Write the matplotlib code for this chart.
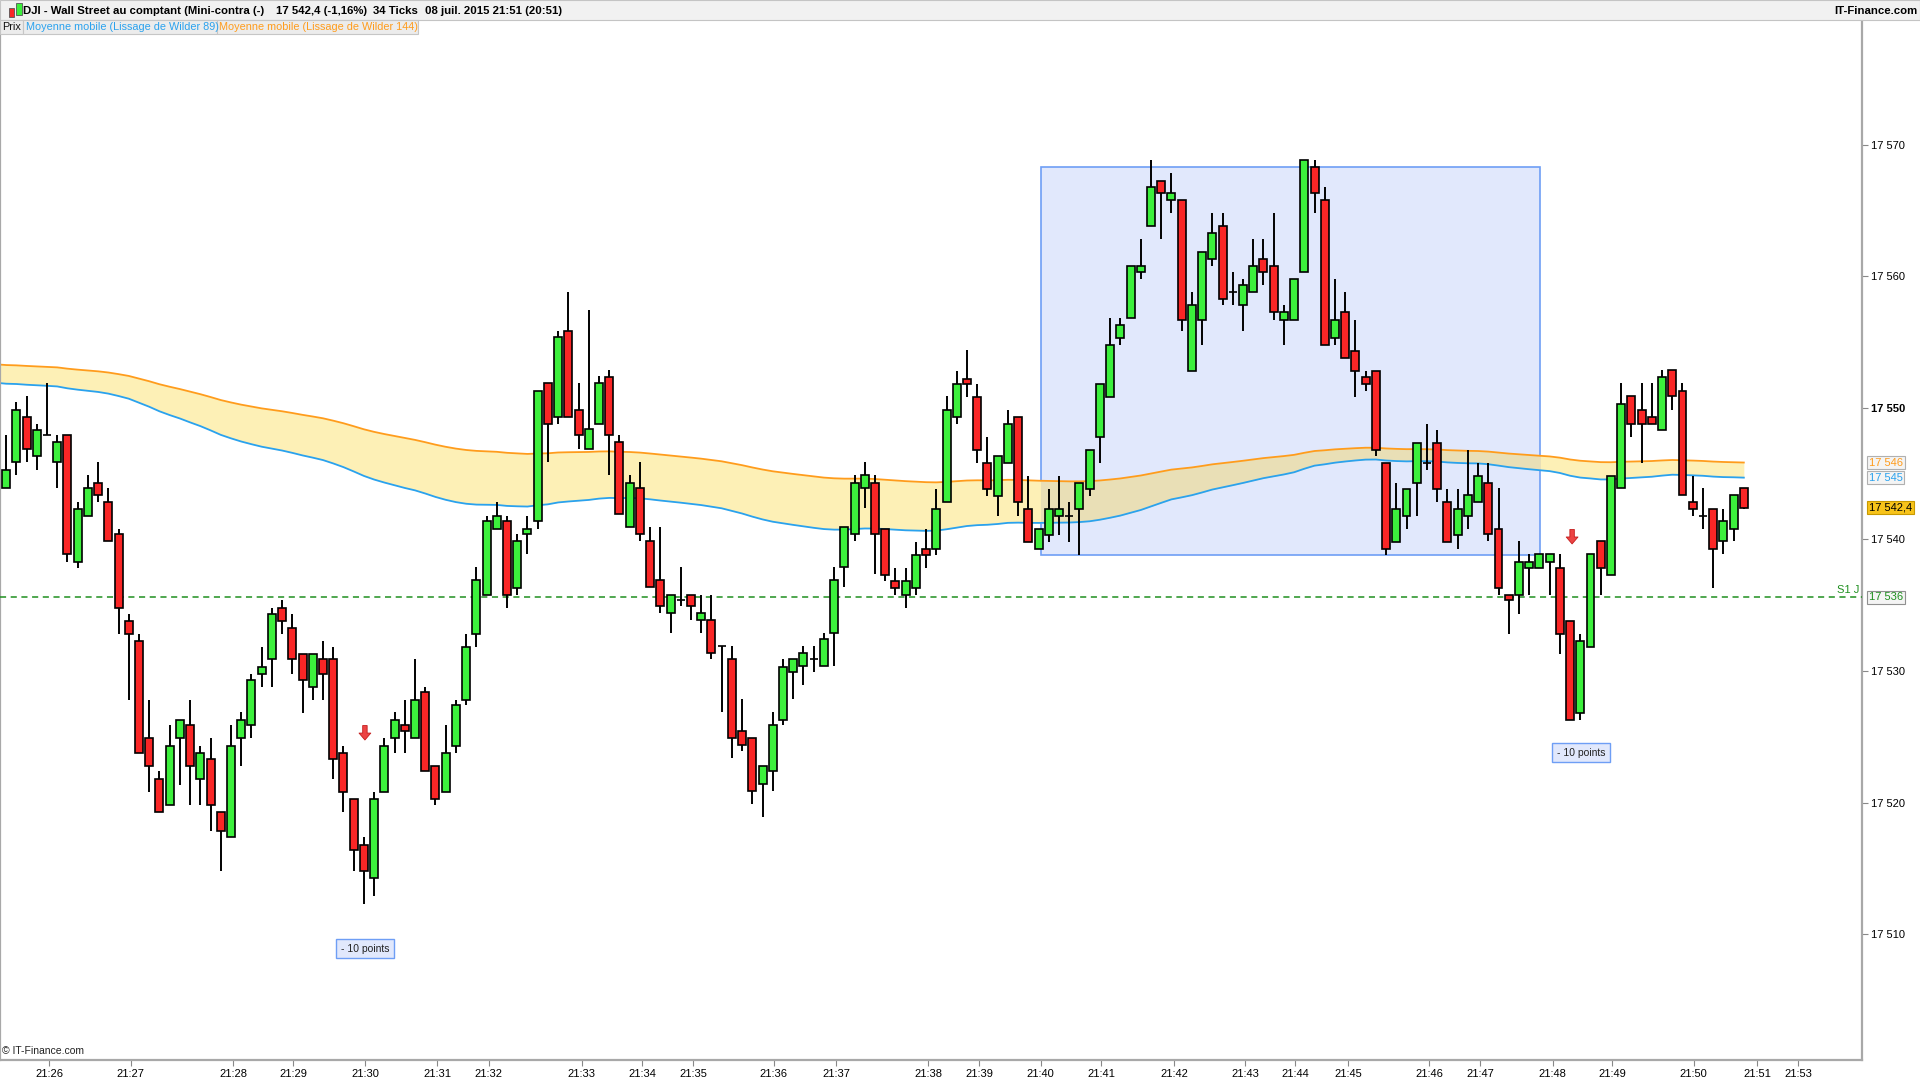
import matplotlib.pyplot as plt
import numpy as np
from matplotlib.patches import Rectangle

plt.rcParams['font.family'] = ['Liberation Sans', 'DejaVu Sans']

# OHLC of the 34-tick candles
opens = [17543.9, 17545.9, 17549.3, 17546.3, 17547.9, 17545.9, 17547.9, 17538.3, 17541.8, 17544.3,
         17542.8, 17540.4, 17533.8, 17532.3, 17524.9, 17521.8, 17519.8, 17524.9, 17525.9, 17521.8,
         17523.3, 17519.3, 17517.4, 17524.9, 17525.9, 17529.8, 17530.9, 17534.8, 17533.3, 17531.3,
         17528.8, 17530.9, 17530.9, 17523.8, 17520.3, 17516.8, 17514.3, 17520.8, 17524.9, 17525.9,
         17524.9, 17528.4, 17522.8, 17520.8, 17524.3, 17527.8, 17532.8, 17535.8, 17540.8, 17541.4,
         17536.3, 17540.4, 17541.4, 17551.9, 17549.3, 17555.8, 17549.8, 17546.9, 17548.8, 17552.3,
         17547.4, 17540.9, 17543.9, 17539.9, 17536.9, 17534.4, 17535.4, 17535.8, 17533.9, 17533.9,
         17531.9, 17530.9, 17525.4, 17524.9, 17521.4, 17522.4, 17526.3, 17529.9, 17530.4, 17530.9,
         17530.4, 17532.9, 17537.9, 17540.4, 17543.9, 17544.3, 17540.8, 17536.8, 17535.8, 17536.3,
         17539.3, 17539.3, 17542.8, 17549.3, 17552.2, 17550.8, 17545.8, 17543.3, 17545.8, 17549.3,
         17542.3, 17539.3, 17540.3, 17541.8, 17541.8, 17542.3, 17543.8, 17547.8, 17550.8, 17555.3,
         17556.8, 17560.3, 17563.8, 17567.2, 17565.8, 17565.8, 17552.8, 17556.7, 17561.3, 17563.8,
         17558.8, 17557.8, 17558.8, 17561.3, 17560.8, 17556.7, 17556.7, 17560.3, 17568.3, 17565.8,
         17555.3, 17557.3, 17554.3, 17552.3, 17552.8, 17545.8, 17539.8, 17541.8, 17544.3, 17545.8,
         17547.3, 17542.8, 17540.3, 17541.8, 17542.8, 17544.3, 17540.8, 17535.8, 17535.8, 17537.8,
         17537.8, 17538.3, 17537.8, 17533.8, 17526.8, 17531.8, 17539.9, 17537.3, 17543.9, 17550.9,
         17549.8, 17549.3, 17548.3, 17552.9, 17551.3, 17542.8, 17541.8, 17542.3, 17539.9, 17540.8,
         17543.9]
highs = [17547.9, 17550.4, 17550.9, 17548.8, 17551.9, 17547.9, 17547.9, 17542.8, 17544.9, 17545.9,
         17543.9, 17540.8, 17534.3, 17532.8, 17527.8, 17522.4, 17525.9, 17526.3, 17527.8, 17524.3,
         17524.9, 17519.3, 17525.9, 17526.9, 17529.8, 17531.8, 17534.8, 17535.4, 17534.3, 17531.3,
         17531.3, 17532.3, 17531.8, 17524.3, 17520.3, 17517.4, 17520.8, 17524.9, 17526.9, 17527.8,
         17530.9, 17528.8, 17522.8, 17525.9, 17527.8, 17532.8, 17537.9, 17541.8, 17542.8, 17541.8,
         17540.4, 17541.8, 17551.3, 17551.9, 17555.8, 17558.8, 17551.9, 17557.4, 17552.4, 17552.9,
         17547.9, 17544.9, 17545.9, 17540.9, 17540.9, 17535.8, 17537.9, 17535.8, 17535.8, 17535.8,
         17531.9, 17531.9, 17527.9, 17524.9, 17522.8, 17526.9, 17530.9, 17530.9, 17531.9, 17531.9,
         17532.9, 17537.9, 17540.9, 17544.9, 17545.9, 17544.9, 17540.8, 17537.8, 17537.8, 17539.8,
         17540.8, 17543.8, 17550.9, 17552.8, 17554.4, 17551.8, 17547.8, 17546.3, 17549.8, 17549.3,
         17544.8, 17540.8, 17543.8, 17544.8, 17542.8, 17544.3, 17546.8, 17551.8, 17556.8, 17556.8,
         17560.8, 17562.8, 17568.8, 17567.2, 17567.8, 17565.8, 17558.8, 17561.8, 17564.8, 17564.8,
         17560.3, 17559.8, 17562.8, 17562.8, 17564.8, 17557.8, 17559.8, 17568.8, 17568.8, 17566.8,
         17559.8, 17558.8, 17556.7, 17552.8, 17552.8, 17545.8, 17544.3, 17543.8, 17547.3, 17548.8,
         17548.3, 17543.8, 17543.8, 17546.8, 17545.8, 17545.8, 17543.9, 17535.8, 17539.9, 17538.9,
         17538.9, 17538.9, 17538.9, 17533.8, 17532.8, 17538.9, 17539.9, 17544.8, 17551.9, 17550.9,
         17551.9, 17551.9, 17552.9, 17552.9, 17551.9, 17544.8, 17543.9, 17542.3, 17542.3, 17543.4,
         17543.9]
lows = [17543.9, 17544.9, 17545.9, 17545.3, 17547.9, 17543.9, 17538.3, 17537.8, 17541.8, 17542.8,
        17539.9, 17532.8, 17527.8, 17523.8, 17520.8, 17519.3, 17519.8, 17521.3, 17519.8, 17519.8,
        17517.8, 17514.8, 17517.4, 17522.8, 17524.9, 17528.8, 17528.8, 17532.8, 17529.8, 17526.8,
        17527.8, 17527.8, 17521.8, 17519.3, 17514.8, 17512.3, 17512.9, 17520.8, 17523.8, 17523.8,
        17524.9, 17522.4, 17519.8, 17520.8, 17523.8, 17527.4, 17531.8, 17535.8, 17540.8, 17534.8,
        17535.8, 17538.9, 17540.8, 17545.9, 17548.8, 17549.3, 17546.9, 17546.9, 17548.8, 17544.9,
        17541.9, 17540.9, 17539.9, 17536.4, 17534.4, 17532.9, 17534.9, 17533.9, 17532.9, 17530.9,
        17526.9, 17523.4, 17523.9, 17519.9, 17518.9, 17520.9, 17525.9, 17527.9, 17528.9, 17529.9,
        17530.4, 17530.4, 17536.4, 17539.9, 17542.4, 17537.4, 17536.8, 17535.8, 17534.8, 17535.8,
        17537.8, 17538.8, 17542.8, 17548.8, 17550.8, 17545.8, 17543.3, 17541.8, 17545.8, 17541.8,
        17539.8, 17539.3, 17539.8, 17540.3, 17539.8, 17538.8, 17543.3, 17545.8, 17550.8, 17554.8,
        17556.8, 17559.8, 17563.8, 17562.8, 17564.8, 17555.8, 17552.8, 17554.8, 17560.8, 17557.8,
        17557.8, 17555.8, 17558.8, 17559.3, 17556.7, 17554.8, 17556.7, 17560.3, 17564.8, 17554.8,
        17554.8, 17553.8, 17550.8, 17551.3, 17546.3, 17538.8, 17539.8, 17540.8, 17541.8, 17545.3,
        17542.8, 17539.8, 17539.3, 17540.8, 17542.8, 17539.9, 17535.8, 17532.8, 17534.3, 17535.8,
        17537.8, 17535.8, 17531.3, 17526.3, 17526.3, 17531.8, 17535.8, 17537.3, 17543.9, 17547.8,
        17545.8, 17548.8, 17548.3, 17549.8, 17543.4, 17541.8, 17540.8, 17536.3, 17538.9, 17539.9,
        17542.3]
closes = [17545.3, 17549.8, 17546.9, 17548.3, 17547.9, 17547.4, 17538.9, 17542.3, 17543.9, 17543.4,
          17539.9, 17534.8, 17532.8, 17523.8, 17522.8, 17519.3, 17524.3, 17526.3, 17522.8, 17523.8,
          17519.8, 17517.8, 17524.3, 17526.3, 17529.3, 17530.3, 17534.3, 17533.8, 17530.9, 17529.3,
          17531.3, 17529.8, 17523.3, 17520.8, 17516.4, 17514.8, 17520.3, 17524.3, 17526.3, 17525.4,
          17527.8, 17522.4, 17520.3, 17523.8, 17527.4, 17531.8, 17536.9, 17541.4, 17541.8, 17535.8,
          17539.9, 17540.8, 17551.3, 17548.8, 17555.4, 17549.3, 17547.9, 17548.4, 17551.9, 17547.9,
          17541.9, 17544.3, 17540.4, 17536.4, 17534.9, 17535.8, 17535.4, 17534.9, 17534.4, 17531.4,
          17531.9, 17524.9, 17524.4, 17520.9, 17522.8, 17525.9, 17530.3, 17530.9, 17531.4, 17530.9,
          17532.4, 17536.9, 17540.9, 17544.3, 17544.9, 17540.4, 17537.3, 17536.3, 17536.8, 17538.8,
          17538.8, 17542.3, 17549.8, 17551.8, 17551.8, 17546.8, 17543.8, 17546.3, 17548.8, 17542.8,
          17539.8, 17540.8, 17542.3, 17542.3, 17541.8, 17544.3, 17546.8, 17551.8, 17554.8, 17556.3,
          17560.8, 17560.8, 17566.8, 17566.3, 17566.3, 17556.7, 17557.8, 17561.8, 17563.3, 17558.3,
          17558.8, 17559.3, 17560.8, 17560.3, 17557.3, 17557.3, 17559.8, 17568.8, 17566.3, 17554.8,
          17556.7, 17553.8, 17552.8, 17551.8, 17546.8, 17539.3, 17542.3, 17543.8, 17547.3, 17545.8,
          17543.8, 17539.8, 17542.3, 17543.4, 17544.8, 17540.4, 17536.3, 17535.4, 17538.3, 17538.3,
          17538.9, 17538.9, 17532.8, 17526.3, 17532.3, 17538.9, 17537.8, 17544.8, 17550.3, 17548.8,
          17548.8, 17548.8, 17552.3, 17550.9, 17543.4, 17542.3, 17541.8, 17539.3, 17541.4, 17543.4,
          17542.4]

time_labels = ['21:26', '21:27', '21:28', '21:29', '21:30', '21:31', '21:32', '21:33', '21:34',
               '21:35', '21:36', '21:37', '21:38', '21:39', '21:40', '21:41', '21:42', '21:43',
               '21:44', '21:45', '21:46', '21:47', '21:48', '21:49', '21:50', '21:51', '21:53']
time_idx = [4.2, 12.2, 22.2, 28.1, 35.1, 42.2, 47.2, 56.3, 62.2, 67.2, 75.1, 81.2, 90.2, 95.2,
            101.2, 107.1, 114.3, 121.2, 126.1, 131.3, 139.2, 144.2, 151.3, 157.1, 165.1, 171.3, 175.3]

# Wilder smoothing, starting values read at the left edge of the chart
ma89_seed = 17551.9
ma144_seed = 17553.3

support_s1 = 17535.6
zone_start, zone_end = 101.2, 150.1
zone_low, zone_high = 17538.8, 17568.3
signal_idx = [35.1, 153.2]
signal_price = [17525.3, 17540.2]
note_idx = [35.1, 154.1]
note_price = [17508.9, 17523.8]


def wilder(values, n, seed):
    out = [seed]
    m = seed
    for v in values:
        m += (v - m) / n
        out.append(m)
    return np.array(out)


def fmt(v, dec=0):
    s = f"{v:,.{dec}f}"
    return s.replace(',', ' ').replace('.', ',')


o = np.array(opens)
h = np.array(highs)
l = np.array(lows)
c = np.array(closes)
x = np.arange(len(c))
xm = np.arange(-1, len(c))
ma89 = wilder(c, 89, ma89_seed)
ma144 = wilder(c, 144, ma144_seed)

fig = plt.figure(figsize=(19.2, 10.8), dpi=100)
ax = fig.add_axes([0.0, 0.0181, 0.970, 0.9626])

# zone box and MA band
zone = Rectangle((zone_start, zone_low), zone_end - zone_start, zone_high - zone_low,
                 facecolor='#e1e8fc', edgecolor='#6e9ef5', lw=1.2, zorder=1)
ax.add_patch(zone)
ax.fill_between(xm, ma89, ma144, color='#fdf0b6', lw=0, zorder=2)
band_in = ax.fill_between(xm, ma89, ma144, color='#e9dfb6', lw=0, zorder=2.1)
band_in.set_clip_path(zone)
ax.plot(xm, ma144, color='#ff9c1c', lw=1.3, zorder=2.5)
ax.plot(xm, ma89, color='#2aa2ee', lw=1.3, zorder=2.5)

ax.axhline(support_s1, color='#1f8f1f', lw=1.1, ls=(0, (4, 3)), zorder=2.6)

# candles
up = c >= o
colors = np.where(up, '#3cf03c', '#fa2626')
ax.vlines(x, l, h, color='black', lw=1.4, zorder=3)
ax.bar(x, np.abs(c - o), bottom=np.minimum(o, c), width=0.78, color=colors,
       edgecolor='black', linewidth=1.2, zorder=4)

# signals
for xi, yi in zip(signal_idx, signal_price):
    ax.annotate('', xy=(xi, yi - 0.55), xytext=(xi, yi + 0.55),
                arrowprops=dict(arrowstyle='simple,head_length=0.5,head_width=0.85,tail_width=0.32',
                                facecolor='#ec4444', edgecolor='#c41c1c', lw=0.6,
                                shrinkA=0, shrinkB=0), zorder=5)
for xi, yi in zip(note_idx, note_price):
    ax.text(xi, yi, '- 10 points', ha='center', va='center', fontsize=7.5, color='#222222',
            bbox=dict(boxstyle='square,pad=0.45', facecolor='#e1e8fc', edgecolor='#6e9ef5', lw=1),
            zorder=6)

ax.set_xlim(-0.6, 181.6)
ax.set_ylim(17500.4, 17579.4)

for s in ['left', 'right', 'bottom']:
    ax.spines[s].set_color('#a8a8a8')
    ax.spines[s].set_linewidth(1.6)
ax.spines['top'].set_visible(False)

ax.yaxis.tick_right()
yt = list(range(17510, 17571, 10))
ax.set_yticks(yt)
ax.set_yticklabels([fmt(v) for v in yt], fontsize=8)
for lab, v in zip(ax.get_yticklabels(), yt):
    if v == 17550:
        lab.set_fontweight('bold')
ax.tick_params(axis='y', length=4, width=0.8, color='#888888', pad=2)
ax.set_xticks(time_idx)
ax.set_xticklabels(time_labels, fontsize=8)
ax.tick_params(axis='x', length=4, width=0.8, color='#888888', pad=2)

# right-hand value tags
tr = ax.get_yaxis_transform()
tags = [(ma144[-1], fmt(ma144[-1]), '#ff9c1c', '#f4f4f4', '#b0b0b0'),
        (ma89[-1], fmt(ma89[-1]), '#2aa2ee', '#f4f4f4', '#b0b0b0'),
        (c[-1], fmt(c[-1], 1), 'black', '#f7c31a', '#c89a00'),
        (support_s1, fmt(support_s1), '#1f8f1f', '#f4f4f4', '#909090')]
for yv, txt, col, bg, ec in tags:
    ax.text(1.0035, yv, txt, transform=tr, ha='left', va='center', fontsize=8, color=col,
            bbox=dict(boxstyle='square,pad=0.15', facecolor=bg, edgecolor=ec, lw=0.8),
            zorder=7, clip_on=False)
ax.text(181.3, support_s1 + 0.15, 'S1 J', ha='right', va='bottom', fontsize=8, color='#1f8f1f')
ax.text(0.001, 0.004, '© IT-Finance.com', transform=ax.transAxes, fontsize=7.5,
        ha='left', va='bottom', color='#222222')

# header bar
fig.patches.append(Rectangle((0, 0.9819), 1, 0.0181, transform=fig.transFigure,
                             facecolor='#f1f1f1', edgecolor='#c4c4c4', lw=0.8, zorder=0))
fig.patches.append(Rectangle((0.0045, 0.9845), 0.0028, 0.008, transform=fig.transFigure,
                             facecolor='#fa2626', edgecolor='#555555', lw=0.6))
fig.patches.append(Rectangle((0.0085, 0.9860), 0.0028, 0.0115, transform=fig.transFigure,
                             facecolor='#3cf03c', edgecolor='#555555', lw=0.6))
hy = 0.9900
hs = 8.2
fig.text(0.0122, hy, 'DJI - Wall Street au comptant (Mini-contra (-)', fontsize=hs,
         fontweight='bold', va='center')
fig.text(0.1435, hy, '17 542,4 (-1,16%)', fontsize=hs, fontweight='bold', va='center')
fig.text(0.1945, hy, '34 Ticks', fontsize=hs, fontweight='bold', va='center')
fig.text(0.2215, hy, '08 juil. 2015 21:51 (20:51)', fontsize=hs, fontweight='bold', va='center')
fig.text(0.9985, hy, 'IT-Finance.com', fontsize=hs, fontweight='bold', va='center', ha='right')

# indicator legend row
leg = [('Prix', '#111111', 0.0, 0.0121),
       ('Moyenne mobile (Lissage de Wilder 89)', '#2aa2ee', 0.0121, 0.1129),
       ('Moyenne mobile (Lissage de Wilder 144)', '#ff9c1c', 0.1129, 0.2175)]
for txt, col, x0, x1 in leg:
    fig.patches.append(Rectangle((x0, 0.9683), x1 - x0, 0.0136, transform=fig.transFigure,
                                 facecolor='#ececec', edgecolor='#c6c6c6', lw=0.8))
    fig.text(x0 + 0.0012, 0.9751, txt, fontsize=7.8, color=col, va='center')

fig.savefig('out.png', dpi=100)
